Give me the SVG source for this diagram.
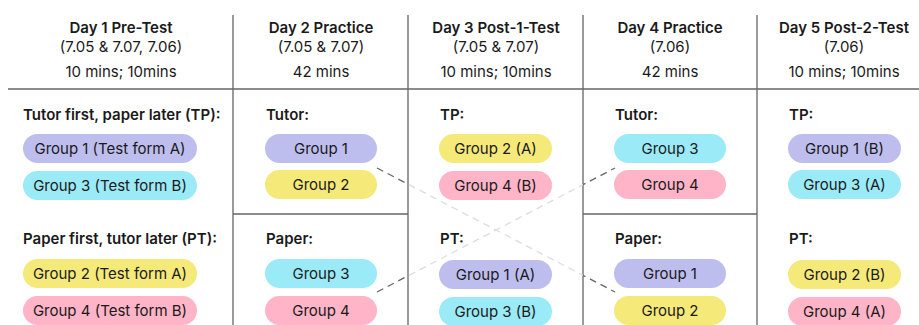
<svg xmlns="http://www.w3.org/2000/svg" width="919" height="325" viewBox="0 0 919 325">
<defs>
<style>
text{font-family:Inter,"Noto Sans","Liberation Sans",sans-serif;fill:#1a1a1a;font-size:15px}
.h{font-weight:600;text-anchor:middle}
.s{text-anchor:middle}
.lbl{font-weight:600}
.pt{text-anchor:middle}
.grid{stroke:#666;stroke-width:1.3;fill:none}
.dash{fill:none;stroke:url(#fade);stroke-width:1.3;stroke-dasharray:7 5}
.p1{fill:#bebeee}.p2{fill:#f5e97a}.p3{fill:#9beaf7}.p4{fill:#ffb4c7}
</style>
<linearGradient id="fade" gradientUnits="userSpaceOnUse" x1="0" y1="0" x2="919" y2="0">
<stop offset="0.4439" stop-color="#666"/>
<stop offset="0.4440" stop-color="#ddd"/>
<stop offset="0.6343" stop-color="#ddd"/>
<stop offset="0.6344" stop-color="#666"/>
</linearGradient>
</defs>
<rect width="919" height="325" fill="#fff"/>
<g id="grid">
<path class="grid" d="M8 89H919M233 15V325M408 15V325M583 15V325M757 15V325M233 214H408M583 214H757"/>
</g>
<g id="connectors">
<path class="dash" d="M377 168L615 292"/>
<path class="dash" d="M377 292L615 168"/>
</g>
<g id="header1"><text class="h" x="121" y="33">Day 1 Pre-Test</text><text class="s" x="121" y="52">(7.05 &amp; 7.07, 7.06)</text><text class="s" x="121" y="77">10 mins; 10mins</text></g>
<g id="header2"><text class="h" x="321" y="33">Day 2 Practice</text><text class="s" x="321" y="52">(7.05 &amp; 7.07)</text><text class="s" x="321" y="77">42 mins</text></g>
<g id="header3"><text class="h" x="496" y="33">Day 3 Post-1-Test</text><text class="s" x="496" y="52">(7.05 &amp; 7.07)</text><text class="s" x="496" y="77">10 mins; 10mins</text></g>
<g id="header4"><text class="h" x="670" y="33">Day 4 Practice</text><text class="s" x="670" y="52">(7.06)</text><text class="s" x="670" y="77">42 mins</text></g>
<g id="header5"><text class="h" x="844" y="33">Day 5 Post-2-Test</text><text class="s" x="844" y="52">(7.06)</text><text class="s" x="844" y="77">10 mins; 10mins</text></g>

<g id="d1-tp"><text class="lbl" x="23" y="120">Tutor first, paper later (TP):</text>
<rect class="p1" x="23" y="134" width="174" height="29" rx="14.5"/><text class="pt" x="110" y="154">Group 1 (Test form A)</text>
<rect class="p3" x="23" y="171" width="174" height="29" rx="14.5"/><text class="pt" x="110" y="191">Group 3 (Test form B)</text></g>
<g id="d1-pt"><text class="lbl" x="23" y="244">Paper first, tutor later (PT):</text>
<rect class="p2" x="23" y="259" width="174" height="29" rx="14.5"/><text class="pt" x="110" y="279">Group 2 (Test form A)</text>
<rect class="p4" x="23" y="296" width="174" height="29" rx="14.5"/><text class="pt" x="110" y="316">Group 4 (Test form B)</text></g>

<g id="d2-tutor"><text class="lbl" x="266" y="120">Tutor:</text>
<rect class="p1" x="265" y="134" width="112" height="29" rx="14.5"/><text class="pt" x="321" y="154">Group 1</text>
<rect class="p2" x="265" y="170" width="112" height="29" rx="14.5"/><text class="pt" x="321" y="190">Group 2</text></g>
<g id="d2-paper"><text class="lbl" x="266" y="244">Paper:</text>
<rect class="p3" x="265" y="259" width="112" height="29" rx="14.5"/><text class="pt" x="321" y="279">Group 3</text>
<rect class="p4" x="265" y="296" width="112" height="29" rx="14.5"/><text class="pt" x="321" y="316">Group 4</text></g>

<g id="d3-tp"><text class="lbl" x="440" y="120">TP:</text>
<rect class="p2" x="439" y="134" width="113" height="29" rx="14.5"/><text class="pt" x="495.5" y="154">Group 2 (A)</text>
<rect class="p4" x="439" y="171" width="113" height="29" rx="14.5"/><text class="pt" x="495.5" y="191">Group 4 (B)</text></g>
<g id="d3-pt"><text class="lbl" x="440" y="244">PT:</text>
<rect class="p1" x="439" y="260" width="113" height="29" rx="14.5"/><text class="pt" x="495.5" y="280">Group 1 (A)</text>
<rect class="p3" x="439" y="297" width="113" height="29" rx="14.5"/><text class="pt" x="495.5" y="317">Group 3 (B)</text></g>

<g id="d4-tutor"><text class="lbl" x="615" y="120">Tutor:</text>
<rect class="p3" x="614" y="134" width="112" height="29" rx="14.5"/><text class="pt" x="670" y="154">Group 3</text>
<rect class="p4" x="614" y="170" width="112" height="29" rx="14.5"/><text class="pt" x="670" y="190">Group 4</text></g>
<g id="d4-paper"><text class="lbl" x="615" y="244">Paper:</text>
<rect class="p1" x="614" y="259" width="112" height="29" rx="14.5"/><text class="pt" x="670" y="279">Group 1</text>
<rect class="p2" x="614" y="296" width="112" height="29" rx="14.5"/><text class="pt" x="670" y="316">Group 2</text></g>

<g id="d5-tp"><text class="lbl" x="789" y="120">TP:</text>
<rect class="p1" x="788" y="134" width="113" height="29" rx="14.5"/><text class="pt" x="844.5" y="154">Group 1 (B)</text>
<rect class="p3" x="788" y="170" width="113" height="29" rx="14.5"/><text class="pt" x="844.5" y="190">Group 3 (A)</text></g>
<g id="d5-pt"><text class="lbl" x="789" y="244">PT:</text>
<rect class="p2" x="788" y="260" width="113" height="29" rx="14.5"/><text class="pt" x="844.5" y="280">Group 2 (B)</text>
<rect class="p4" x="788" y="297" width="113" height="29" rx="14.5"/><text class="pt" x="844.5" y="317">Group 4 (A)</text></g>
</svg>
